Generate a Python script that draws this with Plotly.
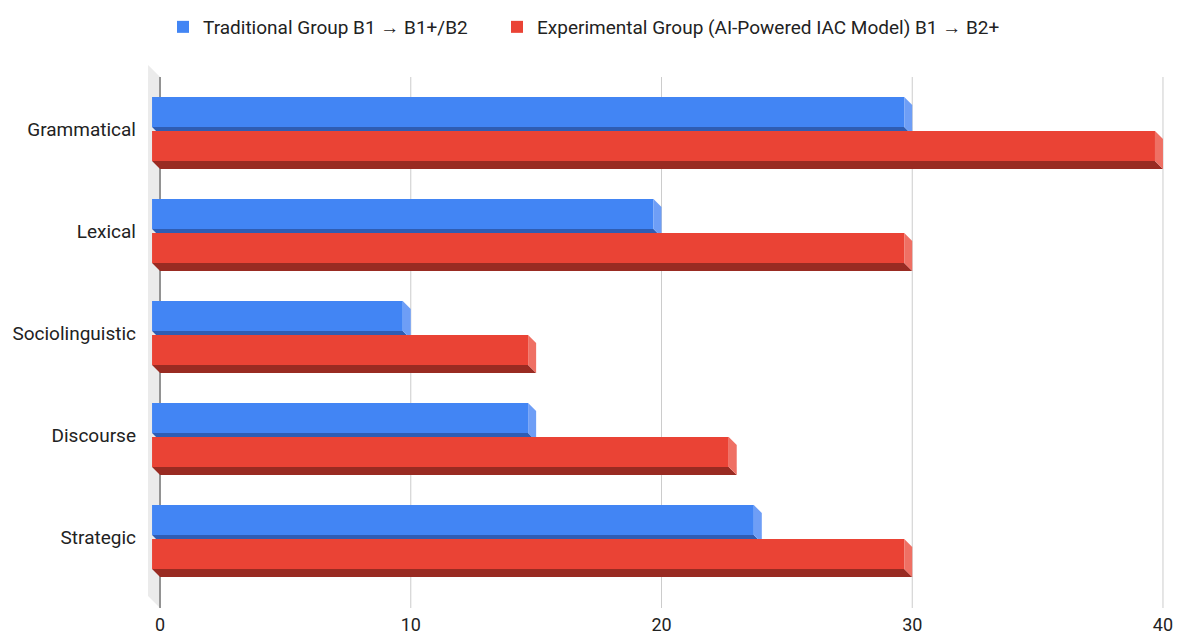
import plotly.graph_objects as go

# ---------------- data ----------------
categories = ["Grammatical", "Lexical", "Sociolinguistic", "Discourse", "Strategic"]
traditional = [30, 20, 10, 15, 24]
experimental = [40, 30, 15, 23, 30]
series_names = ["Traditional Group B1 \u2192 B1+/B2",
                "Experimental Group (AI-Powered IAC Model) B1 \u2192 B2+"]
x_ticks = [0, 10, 20, 30, 40]

# ---------------- styling / geometry ----------------
W, H = 1179, 637
ML, MR, MT, MB = 145, 6, 62, 25
PW, PH = W - ML - MR, H - MT - MB
X0, X1 = -0.6, 40.4
KX = PW / (X1 - X0)          # px per x unit
KY = 102.0                   # px per category step
Y_TOP = -(129 - MT) / KY
Y_BOT = Y_TOP + PH / KY
FONT = "Roboto, Arial, sans-serif"
FS = 19

def px_x(p):   # pixel length -> x units
    return p / KX

def px_y(p):   # pixel length -> y units
    return p / KY

def ypix(p):   # absolute pixel row -> y value
    return Y_TOP + (p - MT) / KY

D = 8          # 3D depth in px
colors = {
    "blue": ("#4285f4", "#2f5db3", "#6e9ef6"),
    "red": ("#ea4335", "#992b22", "#ef7064"),
}

fig = go.Figure()

# front faces
pos = list(range(len(categories)))
blue_y = [i - px_y(17) for i in pos]
red_y = [i + px_y(17) for i in pos]

fig.add_trace(go.Bar(
    y=blue_y, x=traditional, base=[-px_x(D)] * len(pos), width=px_y(30),
    orientation="h", name=series_names[0], legend="legend",
    marker=dict(color=colors["blue"][0], line=dict(width=0)), hoverinfo="skip"))
fig.add_trace(go.Bar(
    y=red_y, x=experimental, base=[-px_x(D)] * len(pos), width=px_y(30),
    orientation="h", name=series_names[1], legend="legend2",
    marker=dict(color=colors["red"][0], line=dict(width=0)), hoverinfo="skip"))

def poly(xs, ys, color):
    fig.add_trace(go.Scatter(x=xs + [xs[0]], y=ys + [ys[0]], mode="lines", fill="toself",
                             fillcolor=color, line=dict(width=0, color=color),
                             showlegend=False, hoverinfo="skip"))

dx = px_x(D)
for i, (vb, vr) in enumerate(zip(traditional, experimental)):
    c = i
    # blue bottom face (visible part above red front)
    yt = c - px_y(2)
    yb = c + px_y(2)
    poly([-dx, vb - dx, vb - dx + px_x(4), -dx + px_x(4)], [yt, yt, yb, yb], colors["blue"][1])
    # blue side face (clipped by red front)
    poly([vb - dx, vb, vb, vb - dx / 2, vb - dx],
         [c - px_y(32), c - px_y(24), c + px_y(2), c + px_y(2), c - px_y(2)], colors["blue"][2])
    # red bottom face
    poly([-dx, vr - dx, vr, 0], [c + px_y(32), c + px_y(32), c + px_y(40), c + px_y(40)], colors["red"][1])
    # red side face
    poly([vr - dx, vr, vr, vr - dx],
         [c + px_y(2), c + px_y(10), c + px_y(40), c + px_y(32)], colors["red"][2])

shapes = []
# left wall
wall = px_x(12)
shapes.append(dict(type="path", xref="x", yref="y", layer="below", line=dict(width=0),
                   fillcolor="#ebebeb",
                   path=f"M0,{ypix(77)} L0,{ypix(608)} L{-wall},{ypix(596)} L{-wall},{ypix(65)} Z"))
# gridlines
for t in x_ticks:
    shapes.append(dict(type="line", xref="x", yref="y", layer="below",
                       x0=t, x1=t, y0=ypix(77), y1=ypix(608),
                       line=dict(color="#333333" if t == 0 else "#cccccc", width=1)))

legend_common = dict(orientation="h", xanchor="left", yanchor="middle",
                     y=1 + (MT - 27) / PH, font=dict(size=FS, color="#222222"),
                     itemclick=False, itemdoubleclick=False, bgcolor="rgba(0,0,0,0)")

fig.update_layout(
    width=W, height=H,
    margin=dict(l=ML, r=MR, t=MT, b=MB, autoexpand=False),
    paper_bgcolor="white", plot_bgcolor="white",
    barmode="overlay",
    showlegend=True,
    font=dict(family=FONT, color="#222222"),
    legend=dict(x=(163 - ML) / PW, **legend_common),
    legend2=dict(x=(497 - ML) / PW, **legend_common),
    shapes=shapes,
    hovermode=False,
    xaxis=dict(range=[X0, X1], tickvals=x_ticks, ticktext=[str(t) for t in x_ticks],
               showgrid=False, zeroline=False, showline=False, ticks="",
               tickfont=dict(size=18, color="#222222"), ticklabelstandoff=0, fixedrange=True),
    yaxis=dict(range=[Y_BOT, Y_TOP], tickvals=pos, ticktext=categories,
               showgrid=False, zeroline=False, showline=False, ticks="",
               tickfont=dict(size=FS, color="#222222"), ticklabelstandoff=8, fixedrange=True),
)

fig.write_html("out.html", config={"displayModeBar": False})
